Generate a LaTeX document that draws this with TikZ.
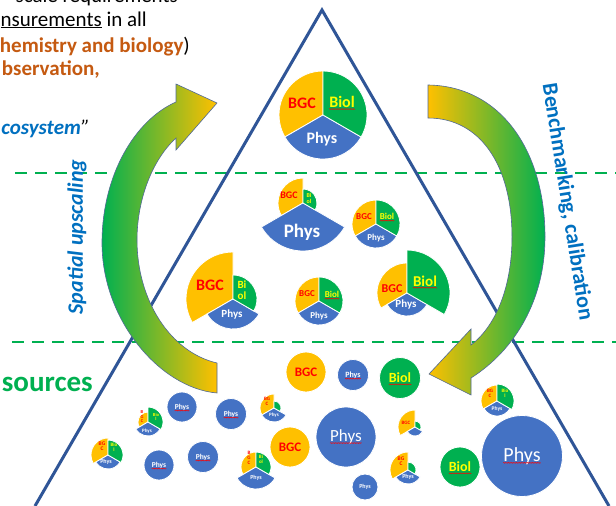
\documentclass[tikz,border=0pt]{standalone}
\usepackage{fontspec}
\setmainfont{Carlito}
\usetikzlibrary{decorations.pathmorphing}
\definecolor{cyel}{RGB}{255,192,0}
\definecolor{cgrn}{RGB}{0,176,80}
\definecolor{cblu}{RGB}{68,114,196}
\definecolor{cred}{RGB}{255,0,0}
\definecolor{clab}{RGB}{255,255,0}
\definecolor{ctri}{RGB}{47,85,151}
\definecolor{corg}{RGB}{197,90,17}
\definecolor{ctxt}{RGB}{0,112,192}
\definecolor{cedge}{RGB}{80,105,150}
\newcommand\fsz[1]{\fontsize{#1}{#1}\selectfont}
\newcommand\sect[5]{\filldraw[sector,fill=#5] (#1) -- ++(-#2:#4) arc[start angle=-#2, end angle=-#3, radius=#4] -- cycle;}
\newcommand\piechart[4]{\sect{#1}{90}{210}{#2}{cyel}\sect{#1}{210}{330}{#4}{cblu}\sect{#1}{330}{450}{#3}{cgrn}}
\newcommand\disc[3]{\filldraw[sector,fill=#3] (#1) circle[radius=#2];}
\newcommand\sq[1]{\draw[squig] ([yshift=-1.5pt]#1.base west) -- ([yshift=-1.5pt]#1.base east);}
\tikzset{
  sector/.style={draw=white, line width=0.8pt},
  tbgc/.style={inner sep=0pt, align=center, text=cred, font=\bfseries\fsz{#1}},
  tbio/.style={inner sep=0pt, align=center, text=clab, font=\bfseries\fsz{#1}},
  tphy/.style={inner sep=0pt, align=center, text=white, font=\bfseries\fsz{#1}},
  tphr/.style={inner sep=0pt, align=center, text=white, font=\fsz{#1}},
  squig/.style={draw=cred, line width=0.35pt, decorate, decoration={snake, amplitude=0.5pt, segment length=1.6pt}},
  gdash/.style={draw=cgrn, line width=2.5pt, dash pattern=on 12pt off 8pt},
  triline/.style={draw=ctri, line width=3pt},
  bigarrow/.style={draw=cedge, line width=0.6pt},
  ltext/.style={inner sep=0pt, anchor=base east, font=\fsz{21}},
}
\begin{document}
\begin{tikzpicture}[x=1pt,y=-1pt]
\useasboundingbox (0,0) rectangle (616,506);
\fill[white] (0,0) rectangle (616,506);
\clip (0,0) rectangle (616,506);
% dashed level lines
\coordinate (d1a) at (15,173); \coordinate (d1b) at (616,173);
\coordinate (d2a) at (12,342); \coordinate (d2b) at (616,342);
\draw[gdash] (d1a) -- (d1b);
\draw[gdash] (d2a) -- (d2b);
% triangle
\coordinate (apex) at (322,10);
\coordinate (bl) at (35,506);
\coordinate (br) at (609,506);
\draw[triline, line join=miter] (bl) -- (apex) -- (br);
% top pie
\piechart{323,115}{44}{44}{44}
\node[tbgc=16] (p1b) at (302,103) {BGC};
\node[tbio=16] (p1g) at (342,102) {Biol}; \sq{p1g}
\node[tphy=16] (p1p) at (322,139) {Phys};
% middle row 1
\piechart{303,203}{25}{14}{48}
\node[tbgc=10] (p2b) at (289,195) {BGC};
\node[tbio=6] (p2g) at (309,198) {Bi\\ol};
\node[tphy=19] (p2p) at (302,232) {Phys};
\piechart{376,224}{24}{24}{24}
\node[tbgc=9] (p3b) at (364,217) {BGC};
\node[tbio=9] (p3g) at (387,216) {Biol}; \sq{p3g}
\node[tphy=9] (p3p) at (376,238) {Phys};
% middle row 2
\piechart{233,299}{47}{24}{30}
\node[tbgc=16] (p4b) at (210,285) {BGC};
\node[tbio=11] (p4g) at (242,290) {Bi\\ol};
\node[tphy=11] (p4p) at (232,315) {Phys};
\piechart{319,301}{24}{24}{24}
\node[tbgc=9] (p5b) at (307,294) {BGC};
\node[tbio=9] (p5g) at (332,294) {Biol}; \sq{p5g}
\node[tphy=9] (p5p) at (319,316) {Phys};
\piechart{407,293}{30}{43}{23}
\node[tbgc=12] (p6b) at (392,289) {BGC};
\node[tbio=15] (p6g) at (425,281) {Biol}; \sq{p6g}
\node[tphy=11] (p6p) at (406,305) {Phys};
% bottom level
\disc{306,372}{20}{cyel}
\node[tbgc=13] (c1) at (306,372) {BGC};
\disc{353,375}{15.5}{cblu}
\node[tphy=8] (c2) at (353,375) {Phys}; \sq{c2}
\disc{400,378}{20.5}{cgrn}
\node[tbio=14] (c3) at (400,378) {Biol}; \sq{c3}
\piechart{148,422}{10}{15}{14}
\node[tbgc=4.5] (c4b) at (142,417) {B\\G\\C};
\node[tbio=4.5] (c4g) at (156,417) {Bio\\l};
\node[tphy=5] (c4p) at (147,431) {Phys};
\disc{182,407}{15}{cblu}
\node[tphy=7.5] (c5) at (182,407) {Phys}; \sq{c5}
\disc{231,414}{15.5}{cblu}
\node[tphy=7.5] (c6) at (231,414) {Phys}; \sq{c6}
\piechart{274,408}{14}{7}{14}
\node[tbgc=5] (c7b) at (267,401) {BG\\C};
\node[tphy=5] (c7p) at (274,415) {Phys};
\disc{290,447}{20}{cyel}
\node[tbgc=13] (c8) at (290,447) {BGC};
\piechart{108,455}{17}{15}{14}
\node[tbgc=5.5] (c9b) at (102,446) {BG\\C};
\node[tbio=5] (c9g) at (114,447) {Bio\\l};
\node[tphy=6] (c9p) at (106,462) {Phys};
\disc{159,465}{15}{cblu}
\node[tphy=7.5] (c10) at (159,465) {Phys}; \sq{c10}
\disc{203,457}{15.5}{cblu}
\node[tphy=7.5] (c11) at (203,457) {Phys}; \sq{c11}
\piechart{256,467}{15}{15}{22}
\node[tbgc=5] (c12b) at (249,458) {B\\G\\C};
\node[tbio=5] (c12g) at (261,459) {Bi\\ol};
\node[tphy=6] (c12p) at (256,478) {Phys};
\piechart{497,401}{16}{17}{15}
\node[tbgc=5] (c13b) at (490,393) {BG\\C};
\node[tbio=5] (c13g) at (505,393) {Bio\\l};
\node[tphy=5.5] (c13p) at (497,409) {Phys};
\piechart{415,427}{17}{6}{9}
\node[tbgc=5] (c14b) at (406,423) {BGC};
\piechart{408,470}{18}{8}{14}
\node[tbgc=5.5] (c15b) at (401,461) {BG\\C};
\node[tphy=6] (c15p) at (408,477) {Phys};
\disc{460,467}{20}{cgrn}
\node[tbio=14] (c16) at (460,467) {Biol}; \sq{c16}
\disc{522,456}{40.5}{cblu}
\node[tphr=20] (c17) at (522,456) {Phys}; \sq{c17}
\disc{346,437}{30}{cblu}
\node[tphr=17] (c18) at (346,437) {Phys}; \sq{c18}
\disc{365,487}{13}{cblu}
\node[tphy=6] (c19) at (365,487) {Phys};
% left curved arrow (spatial upscaling)
\shadedraw[bigarrow, left color=cgrn, right color=cyel]
  (217,393) .. controls (160,388) and (102,320) .. (102,243)
  .. controls (102,175) and (135,120) .. (176,102)
  -- (176,84) -- (217,103) -- (176,150) -- (176,138)
  .. controls (152,160) and (137,200) .. (137,240)
  .. controls (137,300) and (170,352) .. (217,363) -- cycle;
% right curved arrow (benchmarking)
\shadedraw[bigarrow, left color=cyel, right color=cgrn]
  (428,85) .. controls (500,86) and (545,150) .. (545,237)
  .. controls (545,300) and (515,350) .. (471,378)
  -- (471,395) -- (429,374) -- (471,329) -- (471,345)
  .. controls (497,325) and (512,285) .. (512,237)
  .. controls (512,165) and (480,118) .. (428,118) -- cycle;
% texts
\node[ltext] (t1) at (178,2) {scale requirements};
\node[ltext] (t2) at (147,26) {\underline{nsurements} in all};
\node[ltext] (t3) at (190,52) {\textcolor{corg}{\bfseries hemistry and biology})};
\node[ltext, text=corg, font=\bfseries\fsz{21}] (t4) at (100,75) {bservation,};
\node[ltext] (t5) at (90,134) {\textcolor{ctxt}{\bfseries\itshape cosystem}\textit{”}};
\node[ltext, text=cgrn, font=\bfseries\fsz{29}] (t6) at (93,391) {sources};
\node[rotate=90, font=\bfseries\itshape\fsz{22}, text=ctxt] (t7) at (77,237) {Spatial upscaling};
\node[rotate=-81, font=\bfseries\fsz{22}, text=ctxt] (t8) at (567,202) {Benchmarking, calibration};
\end{tikzpicture}
\end{document}
